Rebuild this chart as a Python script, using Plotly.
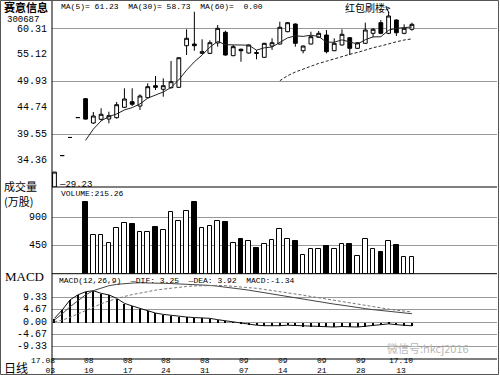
import plotly.graph_objects as go
import pandas as pd

# ---------------- data ----------------
dates = (["08-%02d" % d for d in [3, 4, 7, 8, 9, 10, 11, 14, 15, 16, 17, 18, 21, 22, 23, 24, 25, 28, 29, 30, 31]]
         + ["09-%02d" % d for d in [1, 4, 5, 6, 7, 8, 11, 12, 13, 14, 15, 18, 19, 20, 21, 22, 25, 26, 27, 28, 29]]
         + ["10-%02d" % d for d in [9, 10, 11, 12, 13]])

opens = [29.23, 35.37, 38.91, 42.80, 46.50, 41.74, 42.46, 42.52, 42.78, 44.81, 45.90, 45.06, 46.69, 49.03, 48.33,
         48.64, 48.72, 56.85, 57.18, 55.36, 55.36, 57.40, 59.47, 54.90, 56.15, 55.42, 55.50, 54.58, 56.79, 57.18,
         59.59, 61.09, 55.87, 57.18, 58.49, 58.94, 55.87, 56.99, 58.41, 56.34, 57.32, 59.27, 61.35, 59.27, 61.87,
         59.27, 60.06]
highs = [32.15, 35.37, 38.91, 42.80, 46.60, 43.89, 44.61, 43.95, 45.85, 48.52, 48.52, 47.35, 49.50, 50.93, 50.48,
         53.86, 54.55, 60.06, 63.50, 58.10, 57.90, 60.90, 59.78, 57.00, 56.30, 57.10, 56.01, 57.40, 58.30, 61.54,
         61.45, 61.20, 56.90, 59.59, 59.72, 59.92, 58.30, 60.06, 58.50, 57.50, 61.35, 60.30, 61.87, 63.44, 62.00,
         61.03, 61.35]
lows = [29.23, 35.37, 38.91, 42.80, 42.40, 41.55, 42.19, 41.68, 42.60, 44.70, 45.06, 44.28, 46.60, 48.19, 46.88,
        48.50, 48.60, 55.03, 55.87, 55.20, 55.20, 56.66, 54.90, 54.80, 53.72, 55.30, 54.19, 54.50, 56.01, 57.10,
        59.50, 56.66, 55.36, 57.10, 58.40, 55.36, 55.80, 56.90, 55.03, 56.20, 57.20, 58.49, 59.10, 59.10, 58.75,
        59.10, 59.78]
closes = [32.15, 35.37, 38.91, 42.80, 42.50, 43.11, 43.44, 43.17, 45.32, 46.43, 45.40, 47.02, 48.84, 48.72, 49.03,
          49.81, 54.50, 58.30, 56.85, 55.68, 57.44, 60.25, 55.03, 56.66, 55.87, 56.99, 55.36, 57.32, 57.44, 60.45,
          61.35, 57.32, 56.79, 58.61, 59.27, 55.68, 57.32, 59.08, 56.34, 57.44, 59.92, 60.06, 59.27, 62.66, 59.39,
          60.25, 61.03]
volumes = [None, None, None, None, 1157, 622, 622, 498, 729, 820, 799, 670, 670, 745, 702, 996, 847, 1008, 1147,
           729, 771, 847, 831, 493, 558, 520, 408, 477, 541, 713, 563, 530, 300, 392, 392, 445, 392, 477, 477, 289,
           563, 392, 354, 530, 466, 263, 263]
dif = [0.9, 3.2, 5.9, 8.3, 10.4, 12.0, 13.1, 13.9, 14.4, 14.7, 14.9, 15.0, 15.0, 14.9, 14.8, 14.7, 14.6, 14.5,
       14.4, 14.2, 14.0, 13.7, 13.4, 13.0, 12.6, 12.2, 11.7, 11.3, 10.8, 10.3, 9.9, 9.4, 8.9, 8.4, 7.9, 7.4, 6.9,
       6.5, 6.0, 5.6, 5.2, 4.8, 4.5, 4.1, 3.8, 3.5, 3.25]
dea = [0.2, 0.8, 1.9, 3.2, 4.6, 5.9, 7.0, 8.1, 9.0, 9.8, 10.5, 11.1, 11.7, 12.2, 12.6, 13.0, 13.3, 13.6, 13.8,
       13.9, 14.0, 14.0, 13.9, 13.7, 13.5, 13.2, 12.9, 12.5, 12.1, 11.7, 11.2, 10.8, 10.3, 9.8, 9.3, 8.8, 8.3, 7.8,
       7.3, 6.8, 6.3, 5.9, 5.5, 5.0, 4.6, 4.3, 3.92]
macd = [1.5, 4.7, 8.5, 10.4, 11.6, 12.0, 11.0, 10.4, 9.1, 7.2, 6.2, 5.3, 4.4, 3.5, 3.0, 2.6, 2.3, 2.0, 1.8, 1.7,
        1.5, 1.0, 0.6, 0.2, -0.3, -0.8, -1.1, -1.3, -1.4, -1.3, -1.1, -1.2, -1.5, -1.6, -1.5, -1.7, -1.8, -1.6,
        -1.7, -1.8, -1.5, -1.2, -1.0, -0.6, -0.9, -1.2, -1.34]

price_ticks = ["60.31", "55.12", "49.93", "44.74", "39.55", "34.36"]
price_grid = [60.31, 49.93, 39.55]
vol_ticks = [900, 450]
macd_ticks = ["9.33", "4.67", "0.00", "-4.67", "-9.33"]
date_tick_idx = [0, 5, 10, 15, 20, 25, 30, 35, 40, 46]

n = len(closes)
xs = list(range(n))
ma5 = pd.Series(closes).rolling(5).mean().tolist()
ma30 = pd.Series(closes).rolling(30).mean().tolist()

# ---------------- pixel helpers ----------------
W, H = 500, 375
ML, MR, MT, MB = 52, 3, 1, 16
PW, PH = W - ML - MR, H - MT - MB
XMIN, XMAX = -0.32, 56.95


def PX(x):
    return (x - ML) / PW


def PY(y):
    return (H - MB - y) / PH


def IX(i):
    return (i - XMIN) / (XMAX - XMIN)


MONO = "Liberation Mono"
CJK = "Noto Sans CJK SC"

fig = go.Figure()

# candles
fig.add_trace(go.Candlestick(
    x=xs, open=opens, high=highs, low=lows, close=closes,
    increasing=dict(line=dict(color="black", width=1), fillcolor="white"),
    decreasing=dict(line=dict(color="black", width=1), fillcolor="black"),
    whiskerwidth=0, xaxis="x", yaxis="y", hoverinfo="skip"))
fig.add_trace(go.Scatter(x=xs, y=ma5, mode="lines", line=dict(color="#222", width=1),
                         xaxis="x", yaxis="y", hoverinfo="skip"))
fig.add_trace(go.Scatter(x=xs, y=ma30, mode="lines", line=dict(color="#222", width=1, dash="3px,2px"),
                         xaxis="x", yaxis="y", hoverinfo="skip"))

# volume
vcol = ["white" if c >= o else "black" for o, c in zip(opens, closes)]
fig.add_trace(go.Bar(x=xs, y=volumes, width=0.6, marker=dict(color=vcol, line=dict(color="black", width=1)),
                     xaxis="x", yaxis="y2", hoverinfo="skip"))

# macd
fig.add_trace(go.Bar(x=xs, y=macd, width=0.13, marker=dict(color="black", line=dict(width=0)),
                     xaxis="x", yaxis="y3", hoverinfo="skip"))
fig.add_trace(go.Scatter(x=xs, y=macd, mode="lines", line=dict(color="#111", width=1),
                         xaxis="x", yaxis="y3", hoverinfo="skip"))
fig.add_trace(go.Scatter(x=xs, y=dif, mode="lines", line=dict(color="#444", width=1),
                         xaxis="x", yaxis="y3", hoverinfo="skip"))
fig.add_trace(go.Scatter(x=xs, y=dea, mode="lines", line=dict(color="#777", width=1, dash="3px,2px"),
                         xaxis="x", yaxis="y3", hoverinfo="skip"))

ann = []


def txt(x, y, s, size=9, family=MONO, xanchor="left", color="black", xref="paper", yref="paper", **kw):
    ann.append(dict(x=x, y=y, xref=xref, yref=yref, text=s, showarrow=False, xanchor=xanchor,
                    yanchor="middle", font=dict(size=size, family=family, color=color), **kw))


# left labels
txt(PX(2), PY(6.5), "<b>赛意信息</b>", size=11, family=CJK)
txt(PX(5), PY(19.5), "300687", size=9)
for t in price_ticks:
    txt(PX(49), float(t), t, size=10, xanchor="right", yref="y", yshift=-1.5 if t == "60.31" else 0)
txt(PX(2), PY(186.5), "成交量", size=11, family=CJK)
txt(PX(2), PY(201), "(万股)", size=11, family=CJK)
for v in vol_ticks:
    txt(PX(49), v, str(v), size=10, xanchor="right", yref="y2")
txt(PX(3), PY(276), "MACD", size=13, family="Liberation Serif")
for t in macd_ticks:
    txt(PX(49), float(t), t, size=10, xanchor="right", yref="y3")
txt(PX(2), PY(367), "日线", size=12, family=CJK)

# panel texts
txt(PX(59), PY(6.5), "MA(5)= 61.23  MA(30)= 58.73  MA(60)=  0.00", size=8)
txt(PX(59), PY(193), "VOLUME:215.26", size=8)
txt(PX(57), PY(280), "MACD(12,26,9)  \u2014DIF: 3.25  \u2014DEA: 3.92  MACD:-1.34", size=8)
txt(0.3, 29.23, "\u201429.23", size=9, xref="x", yref="y", yshift=2)
txt(PX(343), PY(8), "红包刷楼>", size=10, family=CJK)
txt(PX(385), PY(348), "微信号:hkcj2016", size=11, family=CJK, color="#b8b8b8")

# date labels: one two-line label per tick (paper coordinates so none is dropped)
for i in date_tick_idx:
    mm, dd = dates[i].split("-")
    if i == 0:
        txt(PX(56.5), PY(365), "17." + mm + "<br>" + dd, size=8, xanchor="right", align="right")
    elif i == n - 1:
        txt(IX(i - 1.45), PY(365), "17." + mm + "<br>" + dd, size=8, xanchor="center", align="center")
    else:
        txt(IX(i - 0.6), PY(365), mm + "<br>" + dd, size=8, xanchor="center", align="center")

shapes = []


def hline(y, x0=ML, x1=W - MR, color="black"):
    shapes.append(dict(type="line", xref="paper", yref="paper", x0=PX(x0), x1=PX(x1), y0=PY(y), y1=PY(y),
                       line=dict(color=color, width=1)))


for y in [187, 273.7, 359]:
    hline(y)
shapes.append(dict(type="line", xref="paper", yref="paper", x0=PX(52), x1=PX(52), y0=PY(0), y1=PY(375),
                   line=dict(color="black", width=1)))
shapes.append(dict(type="rect", xref="paper", yref="paper", x0=PX(0.5), x1=PX(498.5), y0=PY(0.5), y1=PY(374.5),
                   line=dict(color="#555", width=1)))
# pointer from the note to the candle
shapes.append(dict(type="line", xref="paper", yref="paper", x0=PX(386), x1=PX(389), y0=PY(7), y1=PY(13),
                   line=dict(color="black", width=1)))

grid = dict(showgrid=True, gridcolor="#999", gridwidth=1, zeroline=False, showticklabels=False, ticks="",
            showline=False)
fig.update_layout(
    width=W, height=H, margin=dict(l=ML, r=MR, t=MT, b=MB, pad=0),
    paper_bgcolor="white", plot_bgcolor="white", showlegend=False, bargap=0,
    xaxis=dict(range=[XMIN, XMAX], showgrid=False, zeroline=False, showticklabels=False, ticks="",
               rangeslider=dict(visible=False), anchor="y3", showline=False),
    yaxis=dict(domain=[PY(187), 1], range=[29.23, 65.59], tickvals=price_grid, **grid),
    yaxis2=dict(domain=[PY(273.7), PY(187)], range=[0, 1393], tickvals=vol_ticks, **grid),
    yaxis3=dict(domain=[0, PY(273.7)], range=[-13.94, 18.45], tickvals=[float(t) for t in macd_ticks], **grid),
    annotations=ann, shapes=shapes,
)
fig.write_html("out.html")
